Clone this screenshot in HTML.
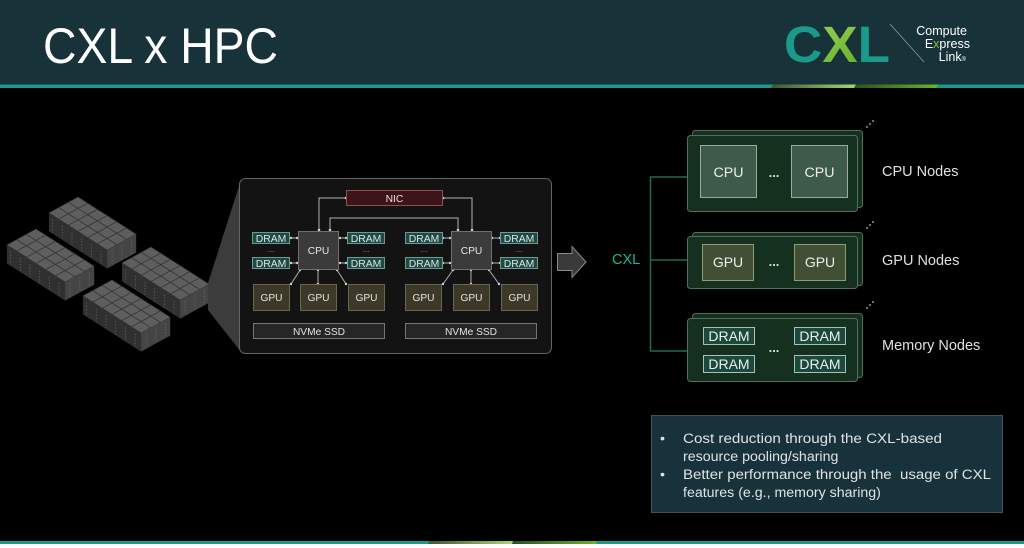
<!DOCTYPE html>
<html><head><meta charset="utf-8"><style>
html,body{margin:0;padding:0;background:#000;}
svg{display:block;}
text{font-family:"Liberation Sans",sans-serif;}
</style></head><body>
<svg width="1024" height="548" viewBox="0 0 1024 548" xmlns="http://www.w3.org/2000/svg">
<defs>
<linearGradient id="g1" x1="0" x2="1" y1="0" y2="0"><stop offset="0" stop-color="#3a5636"/><stop offset="1" stop-color="#a8d868"/></linearGradient>
<linearGradient id="g2" x1="0" x2="1" y1="0" y2="0"><stop offset="0" stop-color="#2a5026"/><stop offset="1" stop-color="#6cb51e"/></linearGradient>
<linearGradient id="gx" x1="0" x2="1" y1="0" y2="1"><stop offset="0" stop-color="#a6d860"/><stop offset="1" stop-color="#58a81e"/></linearGradient>
<g id="tw">
 <polygon points="0,0 9.7,6.2 0,11.5 -9.7,5.3" fill="#5e5e5e" stroke="#333" stroke-width="0.7"/>
 <polygon points="-9.7,5.3 0,11.5 0,30 -9.7,23.8" fill="#303030"/>
 <polygon points="0,11.5 9.7,6.2 9.7,24.7 0,30" fill="#454545"/>
 <line x1="-6" y1="12" x2="-6" y2="25" stroke="#5a5a5a" stroke-width="0.9" stroke-dasharray="1.5,1.5"/>
 <line x1="5" y1="12" x2="5" y2="25" stroke="#606060" stroke-width="0.9" stroke-dasharray="1.5,1.5"/>
</g>
<g id="row">
 <use href="#tw" x="0" y="0"/><use href="#tw" x="9.7" y="6.2"/><use href="#tw" x="19.4" y="12.4"/>
 <use href="#tw" x="29.1" y="18.6"/><use href="#tw" x="38.8" y="24.8"/><use href="#tw" x="48.5" y="31"/>
</g>
<g id="blk">
 <use href="#row" x="0" y="0"/><use href="#row" x="-9.7" y="5.3"/><use href="#row" x="-19.4" y="10.6"/>
</g>
</defs>

<!-- header -->
<rect x="0" y="0" width="1024" height="85" fill="#18323a"/>
<rect x="0" y="84.5" width="1024" height="3.5" fill="#1a9a8a"/>
<polygon points="773,84.5 856,84.5 854,88 771,88" fill="url(#g1)"/>
<polygon points="856,84.5 938,84.5 936,88 854,88" fill="url(#g2)"/>
<rect x="0" y="88" width="1024" height="453" fill="#000"/>
<text x="43" y="63" font-size="50" fill="#ffffff" textLength="235" lengthAdjust="spacingAndGlyphs">CXL x HPC</text>

<!-- logo -->
<text x="784" y="62" font-size="51" font-weight="bold" textLength="106" lengthAdjust="spacingAndGlyphs"><tspan fill="#1a9a8a">C</tspan><tspan fill="url(#gx)">X</tspan><tspan fill="#1a9a8a">L</tspan></text>
<line x1="890" y1="24" x2="924" y2="62" stroke="#8a9a9a" stroke-width="0.8"/>
<text x="967" y="35" font-size="12.5" fill="#fff" text-anchor="end">Compute</text>
<text x="970" y="48" font-size="12.5" fill="#fff" text-anchor="end">E<tspan fill="#7cc23a">x</tspan>press</text>
<text x="966" y="61" font-size="12.5" fill="#fff" text-anchor="end">Link<tspan font-size="6">®</tspan></text>

<!-- server cluster -->
<use href="#blk" x="78" y="197"/>
<use href="#blk" x="36" y="229"/>
<use href="#blk" x="151" y="247"/>
<use href="#blk" x="112" y="280"/>

<!-- trapezoid -->
<polygon points="208,283 241,180 241,352 208,310" fill="#3c3c3c"/>

<!-- detail box -->
<rect x="239.5" y="178.5" width="312" height="175" rx="6" fill="#131313" stroke="#666" stroke-width="1"/>

<!-- connectors -->
<g stroke="#b0b0b0" stroke-width="1" fill="none">
 <polyline points="346,198 319,198 319,230"/>
 <polyline points="443,198 472,198 472,230"/>
 <polyline points="330,230 330,218 458,218 458,230"/>
 <line x1="290" y1="238" x2="298" y2="238"/><line x1="290" y1="263" x2="298" y2="263"/>
 <line x1="339" y1="238" x2="347" y2="238"/><line x1="339" y1="263" x2="347" y2="263"/>
 <line x1="442" y1="238" x2="451" y2="238"/><line x1="442" y1="263" x2="451" y2="263"/>
 <line x1="491" y1="238" x2="501" y2="238"/><line x1="491" y1="263" x2="501" y2="263"/>
 <line x1="300" y1="270" x2="291" y2="284"/><line x1="318" y1="270" x2="318" y2="284"/><line x1="337" y1="270" x2="346" y2="284"/>
 <line x1="453" y1="270" x2="443" y2="284"/><line x1="471" y1="270" x2="471" y2="284"/><line x1="489" y1="270" x2="499" y2="284"/>
</g>
<g fill="#d0d0d0">
 <circle cx="346" cy="198" r="1.3"/><circle cx="319" cy="230" r="1.3"/>
 <circle cx="443" cy="198" r="1.3"/><circle cx="472" cy="230" r="1.3"/>
 <circle cx="330" cy="230" r="1.3"/><circle cx="458" cy="230" r="1.3"/>
 <circle cx="291" cy="238" r="1.2"/><circle cx="297" cy="238" r="1.2"/><circle cx="291" cy="263" r="1.2"/><circle cx="297" cy="263" r="1.2"/>
 <circle cx="340" cy="238" r="1.2"/><circle cx="346" cy="238" r="1.2"/><circle cx="340" cy="263" r="1.2"/><circle cx="346" cy="263" r="1.2"/>
 <circle cx="443" cy="238" r="1.2"/><circle cx="450" cy="238" r="1.2"/><circle cx="443" cy="263" r="1.2"/><circle cx="450" cy="263" r="1.2"/>
 <circle cx="492" cy="238" r="1.2"/><circle cx="500" cy="238" r="1.2"/><circle cx="492" cy="263" r="1.2"/><circle cx="500" cy="263" r="1.2"/>
 <circle cx="300" cy="270" r="1.2"/><circle cx="291" cy="284" r="1.2"/><circle cx="318" cy="270" r="1.2"/><circle cx="318" cy="284" r="1.2"/><circle cx="337" cy="270" r="1.2"/><circle cx="346" cy="284" r="1.2"/>
 <circle cx="453" cy="270" r="1.2"/><circle cx="443" cy="284" r="1.2"/><circle cx="471" cy="270" r="1.2"/><circle cx="471" cy="284" r="1.2"/><circle cx="489" cy="270" r="1.2"/><circle cx="499" cy="284" r="1.2"/>
</g>

<!-- NIC -->
<rect x="346.5" y="190.5" width="96" height="15" fill="#3d1519" stroke="#8a5055"/>
<text x="394.5" y="202" font-size="10.3" fill="#e6dede" text-anchor="middle">NIC</text>

<!-- CPUs -->
<rect x="298.5" y="231.5" width="40" height="38" fill="#3b3b3b" stroke="#707070"/>
<text x="318.5" y="254" font-size="10.2" fill="#e6e6e6" text-anchor="middle">CPU</text>
<rect x="451.5" y="231.5" width="40" height="38" fill="#3b3b3b" stroke="#707070"/>
<text x="471.5" y="254" font-size="10.2" fill="#e6e6e6" text-anchor="middle">CPU</text>

<!-- DRAMs -->
<g fill="#1c4a44" stroke="#6c9a92">
 <rect x="252.5" y="232.5" width="37" height="11"/><rect x="252.5" y="257.5" width="37" height="11"/>
 <rect x="347.5" y="232.5" width="37" height="11"/><rect x="347.5" y="257.5" width="37" height="11"/>
 <rect x="405.5" y="232.5" width="37" height="11"/><rect x="405.5" y="257.5" width="37" height="11"/>
 <rect x="500.5" y="232.5" width="37" height="11"/><rect x="500.5" y="257.5" width="37" height="11"/>
</g>
<g font-size="10.4" fill="#e2e2e2" text-anchor="middle">
 <text x="271" y="242">DRAM</text><text x="271" y="267">DRAM</text>
 <text x="366" y="242">DRAM</text><text x="366" y="267">DRAM</text>
 <text x="424" y="242">DRAM</text><text x="424" y="267">DRAM</text>
 <text x="519" y="242">DRAM</text><text x="519" y="267">DRAM</text>
</g>
<g font-size="8" fill="#999" text-anchor="middle">
 <text x="271" y="252">...</text><text x="366" y="252">...</text><text x="424" y="252">...</text><text x="519" y="252">...</text>
</g>

<!-- GPUs -->
<g fill="#3d3929" stroke="#6b6550">
 <rect x="253.5" y="284.5" width="36" height="26"/><rect x="300.5" y="284.5" width="36" height="26"/><rect x="348.5" y="284.5" width="36" height="26"/>
 <rect x="405.5" y="284.5" width="36" height="26"/><rect x="453.5" y="284.5" width="36" height="26"/><rect x="501.5" y="284.5" width="36" height="26"/>
</g>
<g font-size="10.2" fill="#e2e2e2" text-anchor="middle">
 <text x="271.5" y="301">GPU</text><text x="318.5" y="301">GPU</text><text x="366.5" y="301">GPU</text>
 <text x="423.5" y="301">GPU</text><text x="471.5" y="301">GPU</text><text x="519.5" y="301">GPU</text>
</g>

<!-- NVMe -->
<rect x="253.5" y="323.5" width="131" height="15" fill="#262626" stroke="#747474"/>
<text x="319" y="335" font-size="10.2" fill="#e2e2e2" text-anchor="middle">NVMe SSD</text>
<rect x="405.5" y="323.5" width="131" height="15" fill="#262626" stroke="#747474"/>
<text x="471" y="335" font-size="10.2" fill="#e2e2e2" text-anchor="middle">NVMe SSD</text>

<!-- big arrow -->
<polygon points="557.5,253.5 572,253.5 572,246.5 586,262 572,277.5 572,270.5 557.5,270.5" fill="#3a3a3a" stroke="#8a8a8a"/>

<!-- CXL label & bus -->
<text x="612" y="264" font-size="14.5" fill="#1db992">CXL</text>
<g stroke="#1b6b50" stroke-width="1.5" fill="none">
 <line x1="650.5" y1="177" x2="650.5" y2="351"/>
 <line x1="650" y1="177" x2="687" y2="177"/>
 <line x1="650" y1="260" x2="687" y2="260"/>
 <line x1="650" y1="351" x2="687" y2="351"/>
</g>

<!-- node cards -->
<g fill="#16301f" stroke="#51705c">
 <rect x="692.5" y="130.5" width="170" height="77" rx="3"/>
 <rect x="687.5" y="135.5" width="170" height="76" rx="3"/>
 <rect x="692.5" y="232.5" width="170" height="53" rx="3"/>
 <rect x="687.5" y="236.5" width="170" height="52" rx="3"/>
 <rect x="692.5" y="313.5" width="170" height="64" rx="3"/>
 <rect x="687.5" y="318.5" width="170" height="63" rx="3"/>
</g>
<g fill="#bbb">
 <circle cx="867" cy="127" r="0.9"/><circle cx="870" cy="124" r="0.9"/><circle cx="873" cy="121" r="0.9"/>
 <circle cx="867" cy="228" r="0.9"/><circle cx="870" cy="225" r="0.9"/><circle cx="873" cy="222" r="0.9"/>
 <circle cx="867" cy="308" r="0.9"/><circle cx="870" cy="305" r="0.9"/><circle cx="873" cy="302" r="0.9"/>
</g>

<!-- CPU node -->
<rect x="700.5" y="145.5" width="56" height="52" fill="#3d5a4a" stroke="#98ab9c"/>
<rect x="791.5" y="145.5" width="56" height="52" fill="#3d5a4a" stroke="#98ab9c"/>
<text x="728.5" y="177" font-size="14.2" fill="#eee" text-anchor="middle">CPU</text>
<text x="819.5" y="177" font-size="14.2" fill="#eee" text-anchor="middle">CPU</text>
<text x="774" y="177" font-size="13" font-weight="bold" fill="#ddd" text-anchor="middle">...</text>

<!-- GPU node -->
<rect x="702.5" y="244.5" width="51" height="36" fill="#414f35" stroke="#8e9c78"/>
<rect x="794.5" y="244.5" width="51" height="36" fill="#414f35" stroke="#8e9c78"/>
<text x="728" y="267" font-size="14" fill="#eee" text-anchor="middle">GPU</text>
<text x="820" y="267" font-size="14" fill="#eee" text-anchor="middle">GPU</text>
<text x="774" y="266" font-size="13" font-weight="bold" fill="#ddd" text-anchor="middle">...</text>

<!-- Memory node -->
<g fill="#1b4a3c" stroke="#a8c0b8">
 <rect x="703.5" y="327.5" width="51" height="17"/><rect x="703.5" y="355.5" width="51" height="17"/>
 <rect x="794.5" y="327.5" width="51" height="17"/><rect x="794.5" y="355.5" width="51" height="17"/>
</g>
<g font-size="14" fill="#eee" text-anchor="middle">
 <text x="729" y="341">DRAM</text><text x="729" y="369">DRAM</text>
 <text x="820" y="341">DRAM</text><text x="820" y="369">DRAM</text>
</g>
<text x="774" y="352" font-size="13" font-weight="bold" fill="#ddd" text-anchor="middle">...</text>

<!-- node labels -->
<g font-size="14.5" fill="#e0e0e0">
 <text x="882" y="176">CPU Nodes</text>
 <text x="882" y="265">GPU Nodes</text>
 <text x="882" y="350">Memory Nodes</text>
</g>

<!-- bullet box -->
<rect x="651.5" y="415.5" width="351" height="97" fill="#17323a" stroke="#3f5558"/>
<g font-size="14.2" fill="#e2e2e2">
 <text x="660" y="443">•</text>
 <text x="683" y="443" textLength="259" lengthAdjust="spacingAndGlyphs">Cost reduction through the CXL-based</text>
 <text x="683" y="461">resource pooling/sharing</text>
 <text x="660" y="479">•</text>
 <text x="683" y="479" textLength="308" lengthAdjust="spacingAndGlyphs" xml:space="preserve">Better performance through the  usage of CXL</text>
 <text x="683" y="497">features (e.g., memory sharing)</text>
</g>

<!-- bottom strip -->
<rect x="0" y="541" width="1024" height="3" fill="#1a9a8a"/>
<polygon points="430,541 513,541 512,544 428,544" fill="url(#g1)"/>
<polygon points="513,541 597,541 596,544 512,544" fill="url(#g2)"/>
<rect x="0" y="544" width="1024" height="4" fill="#ffffff"/>
</svg>
</body></html>
